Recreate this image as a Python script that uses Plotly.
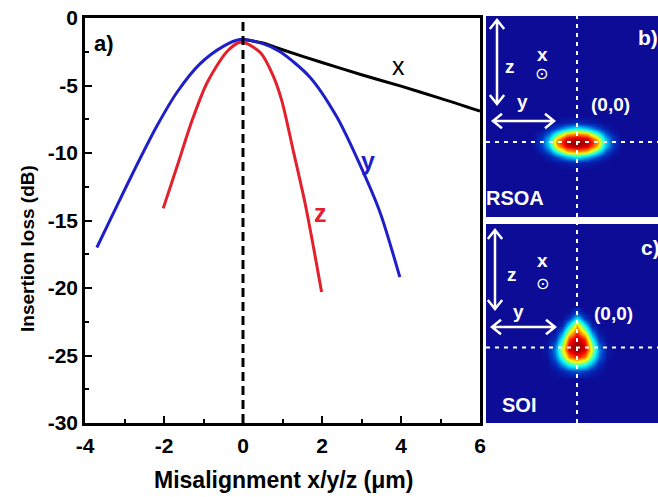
import plotly.graph_objects as go

# ---------------- data ----------------
x_shift = [0.0, 0.5, 1.0, 2.0, 3.0, 4.0, 5.0, 6.0]
x_loss = [-1.6, -1.85, -2.35, -3.3, -4.2, -5.05, -5.95, -6.9]

y_shift = [-3.70, -3.19, -2.69, -2.18, -1.67, -1.09, -0.50, -0.08, 0.50, 0.94, 1.70, 2.37, 2.92, 3.47, 3.97]
y_loss = [-17.0, -13.9, -10.9, -8.0, -5.5, -3.4, -2.1, -1.6, -1.9, -2.5, -4.4, -7.3, -10.6, -14.4, -19.2]

z_shift = [-2.02, -1.67, -1.29, -0.91, -0.41, -0.08, 0.10, 0.45, 0.75, 0.98, 1.27, 1.57, 1.78, 1.99]
z_loss = [-14.1, -11.0, -7.6, -4.8, -2.5, -1.8, -1.9, -2.6, -4.2, -6.1, -9.8, -13.7, -16.9, -20.3]

x_ticks = [-4, -2, 0, 2, 4, 6]
y_ticks = [0, -5, -10, -15, -20, -25, -30]

# mode intensity maps (normalised), coarse grids read off panels b) and c)
rsoa_cols = [-52, -44, -36, -28, -20, -10, 0, 10, 20, 28, 36, 44, 52]
rsoa_rows = [-27, -20, -14, -9, -4, 0, 4, 9, 14, 20, 27]
rsoa_map = [
    [0, 0, 0, 0, 0, 0, 0, 0, 0, 0, 0, 0, 0],
    [0, 0, 0, 0, 0.02, 0.05, 0.07, 0.05, 0.02, 0, 0, 0, 0],
    [0, 0, 0, 0.06, 0.16, 0.30, 0.40, 0.30, 0.16, 0.06, 0, 0, 0],
    [0, 0, 0.05, 0.18, 0.42, 0.68, 0.74, 0.68, 0.42, 0.18, 0.05, 0, 0],
    [0, 0, 0.10, 0.30, 0.68, 0.90, 0.94, 0.90, 0.68, 0.30, 0.10, 0, 0],
    [0, 0.01, 0.13, 0.35, 0.76, 0.95, 1.00, 0.95, 0.76, 0.35, 0.13, 0.01, 0],
    [0, 0, 0.10, 0.30, 0.68, 0.90, 0.94, 0.90, 0.68, 0.30, 0.10, 0, 0],
    [0, 0, 0.05, 0.18, 0.42, 0.68, 0.74, 0.68, 0.42, 0.18, 0.05, 0, 0],
    [0, 0, 0, 0.06, 0.16, 0.30, 0.40, 0.30, 0.16, 0.06, 0, 0, 0],
    [0, 0, 0, 0, 0.02, 0.05, 0.07, 0.05, 0.02, 0, 0, 0, 0],
    [0, 0, 0, 0, 0, 0, 0, 0, 0, 0, 0, 0, 0],
]

soi_cols = [-38, -30, -22, -15, -8, 0, 8, 15, 22, 30, 38]
soi_rows = [-34, -26, -19, -12, -5, 0, 6, 13, 20, 27, 34]
soi_map = [
    [0, 0, 0, 0, 0, 0, 0, 0, 0, 0, 0],
    [0, 0, 0.02, 0.06, 0.12, 0.15, 0.12, 0.06, 0.02, 0, 0],
    [0, 0, 0.08, 0.25, 0.42, 0.50, 0.42, 0.25, 0.08, 0, 0],
    [0, 0.02, 0.18, 0.45, 0.75, 0.85, 0.75, 0.45, 0.18, 0.02, 0],
    [0, 0.03, 0.22, 0.58, 0.90, 0.98, 0.90, 0.58, 0.22, 0.03, 0],
    [0, 0.02, 0.18, 0.52, 0.90, 1.00, 0.90, 0.52, 0.18, 0.02, 0],
    [0, 0, 0.10, 0.40, 0.82, 0.95, 0.82, 0.40, 0.10, 0, 0],
    [0, 0, 0.03, 0.22, 0.60, 0.82, 0.60, 0.22, 0.03, 0, 0],
    [0, 0, 0, 0.06, 0.35, 0.70, 0.35, 0.06, 0, 0, 0],
    [0, 0, 0, 0, 0.10, 0.35, 0.10, 0, 0, 0, 0],
    [0, 0, 0, 0, 0, 0.08, 0, 0, 0, 0, 0],
]

# ---------------- styling ----------------
W, H = 658, 497
ML, MR, MT, MB = 85, 0, 16, 74
PW, PH = W - ML - MR, H - MT - MB


def px(xp):
    return (xp - ML) / PW


def py(yp):
    return (H - MB - yp) / PH


BLUE = "#1f1fc8"
RED = "#e3202b"
BG = "rgb(12,12,150)"
TICKFONT = "Liberation Sans, Arial"
SANS = "Liberation Sans, Arial"

jet = [[0.0, BG], [0.125, "rgb(0,60,200)"], [0.375, "rgb(5,255,255)"],
       [0.625, "rgb(255,255,0)"], [0.875, "rgb(250,0,0)"], [1.0, "rgb(128,0,0)"]]

fig = go.Figure()

line_kw = dict(width=3, shape="spline", smoothing=0.8)
fig.add_trace(go.Scatter(x=x_shift, y=x_loss, mode="lines", line=dict(color="black", **line_kw),
                         hoverinfo="skip", showlegend=False))
fig.add_trace(go.Scatter(x=y_shift, y=y_loss, mode="lines", line=dict(color=BLUE, **line_kw),
                         hoverinfo="skip", showlegend=False))
fig.add_trace(go.Scatter(x=z_shift, y=z_loss, mode="lines", line=dict(color=RED, **line_kw),
                         hoverinfo="skip", showlegend=False))

fig.add_trace(go.Heatmap(x=rsoa_cols, y=rsoa_rows, z=rsoa_map, colorscale=jet, zmin=0, zmax=1,
                         zsmooth="best", showscale=False, hoverinfo="skip", xaxis="x2", yaxis="y2"))
fig.add_trace(go.Heatmap(x=soi_cols, y=soi_rows, z=soi_map, colorscale=jet, zmin=0, zmax=1,
                         zsmooth="best", showscale=False, hoverinfo="skip", xaxis="x3", yaxis="y3"))

axis_common = dict(showline=True, linecolor="black", linewidth=2.5, mirror=True, ticks="inside",
                   ticklen=7, tickwidth=2, tickcolor="black", showgrid=False, zeroline=False,
                   automargin=False,
                   tickfont=dict(family=TICKFONT, size=21, color="black"))

fig.update_layout(
    width=W, height=H,
    margin=dict(l=ML, r=MR, t=MT, b=MB, autoexpand=False),
    paper_bgcolor="white", plot_bgcolor="white",
    xaxis=dict(domain=[0, px(480)], range=[-4, 6], tickvals=x_ticks,
               ticktext=["<b>%d</b>" % v for v in x_ticks],
               minor=dict(dtick=1, ticks="inside", ticklen=4, tickwidth=2, tickcolor="black"),
               anchor="y", ticklabelstandoff=2, **axis_common),
    yaxis=dict(domain=[0, py(18)], range=[-30, 0], tickvals=y_ticks,
               ticktext=["<b>%d</b>" % v for v in y_ticks],
               minor=dict(dtick=2.5, ticks="inside", ticklen=4, tickwidth=2, tickcolor="black"),
               anchor="x", ticklabelstandoff=0, **axis_common),
    xaxis2=dict(domain=[px(486), 1], range=[-91, 81], visible=False, anchor="y2"),
    yaxis2=dict(domain=[py(217), py(16)], range=[-75, 126], visible=False, anchor="x2"),
    xaxis3=dict(domain=[px(486), 1], range=[-91, 81], visible=False, anchor="y3"),
    yaxis3=dict(domain=[0, py(224)], range=[-78, 122], visible=False, anchor="x3"),
)

shapes = []
# dark panel backgrounds
shapes.append(dict(type="rect", xref="x2", yref="y2", x0=-91, x1=81, y0=-75, y1=126,
                   fillcolor=BG, line=dict(width=0), layer="below"))
shapes.append(dict(type="rect", xref="x3", yref="y3", x0=-91, x1=81, y0=-78, y1=122,
                   fillcolor=BG, line=dict(width=0), layer="below"))
# white dashed crosshairs
for xr, yr, y0, y1, hy in (("x2", "y2", -75, 126, 0), ("x3", "y3", -78, 122, -2)):
    shapes.append(dict(type="line", xref=xr, yref=yr, x0=0, x1=0, y0=y0, y1=y1,
                       line=dict(color="white", width=2, dash="4px,5px")))
    shapes.append(dict(type="line", xref=xr, yref=yr, x0=-91, x1=81, y0=hy, y1=hy,
                       line=dict(color="white", width=2, dash="4px,5px")))
# black dashed vertical line at zero misalignment
shapes.append(dict(type="line", xref="x", yref="paper", x0=0, x1=0, y0=0, y1=py(18),
                   line=dict(color="black", width=3, dash="9px,5px")))


# double-headed white arrows (decorations)
def arrow_path(x0, y0, x1, y1, head=9):
    import math
    dx, dy = x1 - x0, y1 - y0
    L = math.hypot(dx, dy)
    ux, uy = dx / L, dy / L
    nx, ny = -uy, ux
    d = "M %f %f L %f %f " % (px(x0), py(y0), px(x1), py(y1))
    for (ex, ey, sx, sy) in ((x1, y1, -ux, -uy), (x0, y0, ux, uy)):
        a = (ex + sx * head + nx * head * 0.8, ey + sy * head + ny * head * 0.8)
        b = (ex + sx * head - nx * head * 0.8, ey + sy * head - ny * head * 0.8)
        d += "M %f %f L %f %f L %f %f " % (px(a[0]), py(a[1]), px(ex), py(ey), px(b[0]), py(b[1]))
    return d


for seg in ((497, 20, 497, 104), (493, 121, 554, 121), (495, 230, 495, 309), (492, 327, 555, 327)):
    shapes.append(dict(type="path", xref="paper", yref="paper", path=arrow_path(*seg),
                       line=dict(color="white", width=2.5)))

fig.update_layout(shapes=shapes)

ann = []


def txt(x, y, s, size, color="black", family=TICKFONT, bold=True, angle=0):
    ann.append(dict(x=px(x), y=py(y), xref="paper", yref="paper", text=("<b>%s</b>" % s) if bold else s,
                    showarrow=False, xanchor="center", yanchor="middle", textangle=angle,
                    font=dict(family=family, size=size, color=color)))


txt(104, 43, "a)", 22)
txt(398, 66, "x", 25, "black", SANS, False)
txt(368, 161, "y", 25, BLUE, SANS, True)
txt(320, 213, "z", 25, RED, SANS, True)
txt(283, 480, "Misalignment x/y/z (μm)", 23, "black", SANS)
txt(27, 249, "Insertion loss (dB)", 19, "black", SANS, True, -90)

# panel b
txt(648, 37, "b)", 21, "white")
txt(510, 66, "z", 19, "white")
txt(542, 55, "x", 19, "white")
txt(541, 73, "⊙", 16, "white", "DejaVu Sans", False)
txt(522, 102, "y", 19, "white")
txt(610, 104, "(0,0)", 19, "white")
txt(515, 198, "RSOA", 20, "white")
# panel c
txt(650, 247, "c)", 21, "white")
txt(512, 274, "z", 19, "white")
txt(542, 260, "x", 19, "white")
txt(542, 283, "⊙", 16, "white", "DejaVu Sans", False)
txt(518, 311, "y", 19, "white")
txt(613, 313, "(0,0)", 19, "white")
txt(519, 405, "SOI", 20, "white")

fig.update_layout(annotations=ann)

fig.write_html("out.html", config={"displayModeBar": False},
               post_script="document.body.style.margin='0px';")
